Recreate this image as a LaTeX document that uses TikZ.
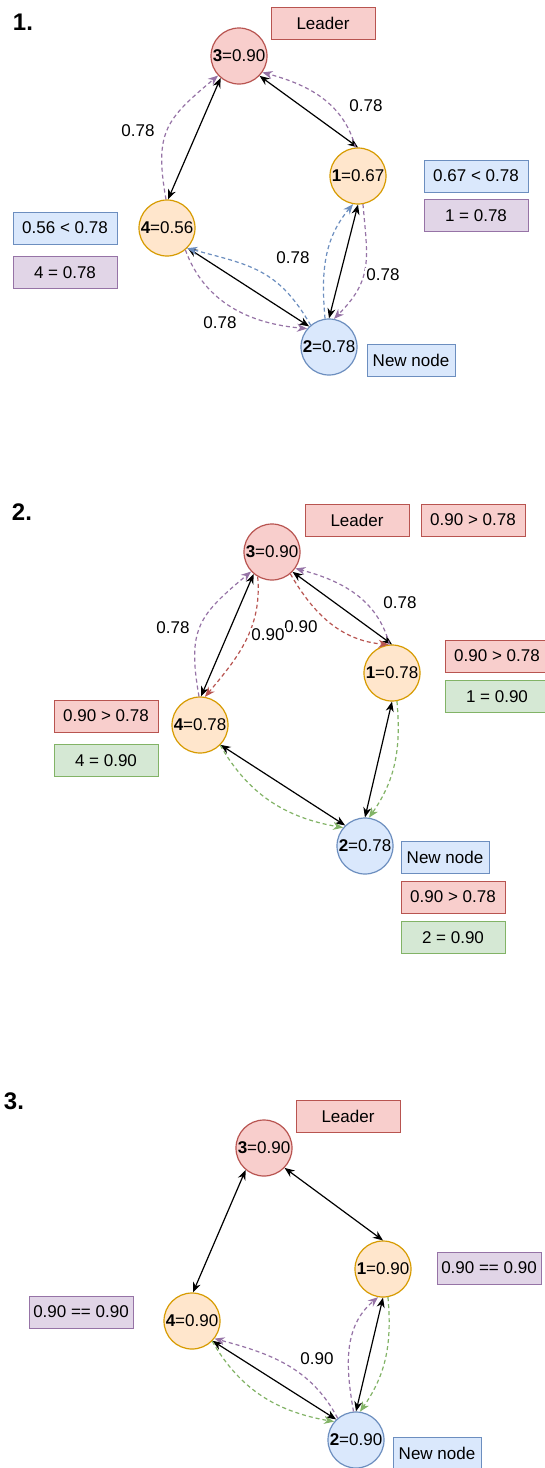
\documentclass[tikz,border=0pt]{standalone}
\usepackage{fontspec}
\setmainfont{Liberation Sans}
\usetikzlibrary{arrows.meta,positioning}
\definecolor{redfill}{HTML}{F8CECC}
\definecolor{redline}{HTML}{B85450}
\definecolor{orangefill}{HTML}{FFE6CC}
\definecolor{orangeline}{HTML}{D79B00}
\definecolor{bluefill}{HTML}{DAE8FC}
\definecolor{blueline}{HTML}{6C8EBF}
\definecolor{purplefill}{HTML}{E1D5E7}
\definecolor{purpleline}{HTML}{9673A6}
\definecolor{greenfill}{HTML}{D5E8D4}
\definecolor{greenline}{HTML}{82B366}
\begin{document}
\begin{tikzpicture}[x=1pt,y=1pt,>={Stealth[length=10pt,width=8pt]},
    every node/.style={font=\fontsize{17}{20}\selectfont},
    vertex/.style={circle,draw,line width=1.2pt,minimum size=56pt,inner sep=0pt},
    leadv/.style={vertex,fill=redfill,draw=redline},
    peerv/.style={vertex,fill=orangefill,draw=orangeline},
    newv/.style={vertex,fill=bluefill,draw=blueline},
    note/.style={draw,line width=0.9pt,minimum width=104pt,minimum height=32pt,inner sep=0pt},
    rednote/.style={note,fill=redfill,draw=redline},
    bluenote/.style={note,fill=bluefill,draw=blueline},
    purplenote/.style={note,fill=purplefill,draw=purpleline},
    greennote/.style={note,fill=greenfill,draw=greenline},
    link/.style={<->,line width=1.2pt},
    msg/.style={->,line width=1.2pt,dash pattern=on 4pt off 3pt},
    pmsg/.style={msg,purpleline},
    bmsg/.style={msg,blueline},
    rmsg/.style={msg,redline},
    gmsg/.style={msg,greenline},
    weight/.style={fill=white,inner sep=1pt},
    title/.style={font=\fontsize{24}{28}\selectfont\bfseries}]
  \useasboundingbox[fill=white] (0,0) rectangle (544,-1468);

  % step 1
  \begin{scope}[name prefix=s1-]
    \node[title] (head) at (23,-22) {1.};
    \node[rednote] (leader) at (323,-23) {Leader};
    \node[leadv] (3) at (239,-56) {\textbf{3}=0.90};
    \node[peerv] (1) at (358,-176) {\textbf{1}=0.67};
    \node[peerv] (4) at (167,-228) {\textbf{4}=0.56};
    \node[newv] (2) at (329,-347) {\textbf{2}=0.78};
    \node[bluenote] (cmp1) at (476,-176) {0.67 < 0.78};
    \node[purplenote,below=7pt of cmp1] (set1) {1 = 0.78};
    \node[bluenote] (cmp4) at (65,-228) {0.56 < 0.78};
    \node[purplenote,below=12pt of cmp4] (set4) {4 = 0.78};
    \node[bluenote,minimum width=88pt] (new) at (411,-360) {New node};

    \draw[link] (3.-44) -- (1.90);
    \draw[link] (3.230) -- (4.88);
    \draw[link] (4.-44) -- (2.134);
    \draw[link] (1.-90) -- (2.90);

    \draw[pmsg] (4.92) to[out=100,in=220,looseness=1.3] (3.223);
    \draw[pmsg] (1.95) to[out=105,in=-15] (3.-35);
    \draw[bmsg] (2.130) to[out=120,in=-15,looseness=1.15] (4.-45);
    \draw[pmsg] (4.-50) to[out=-70,in=175] (2.140);
    \draw[bmsg] (2.98) to[out=95,in=230] (1.-100);
    \draw[pmsg] (1.-80) to[out=-85,in=45,looseness=1.2] (2.80);

    \node[weight] (w43) at (138,-131) {0.78};
    \node[weight] (w13) at (366,-106) {0.78};
    \node[weight] (w24) at (293,-258) {0.78};
    \node[weight] (w12) at (383,-275) {0.78};
    \node[weight] (w42) at (220,-323) {0.78};
  \end{scope}

  % step 2
  \begin{scope}[name prefix=s2-]
    \node[title] (head) at (22,-512) {2.};
    \node[rednote] (leader) at (357,-520) {Leader};
    \node[rednote] (cmp3) at (473,-520) {0.90 > 0.78};
    \node[leadv] (3) at (272,-552) {\textbf{3}=0.90};
    \node[peerv] (1) at (392,-673) {\textbf{1}=0.78};
    \node[peerv] (4) at (200,-725) {\textbf{4}=0.78};
    \node[newv] (2) at (365,-846) {\textbf{2}=0.78};
    \node[rednote] (cmp1) at (497,-656) {0.90 > 0.78};
    \node[greennote,below=8pt of cmp1] (set1) {1 = 0.90};
    \node[rednote] (cmp4) at (106,-716) {0.90 > 0.78};
    \node[greennote,below=12pt of cmp4] (set4) {4 = 0.90};
    \node[bluenote,minimum width=88pt] (new) at (445,-857) {New node};
    \node[rednote] (cmp2) at (453,-897) {0.90 > 0.78};
    \node[greennote,below=8pt of cmp2] (set2) {2 = 0.90};

    \draw[link] (3.-44) -- (1.90);
    \draw[link] (3.230) -- (4.88);
    \draw[link] (4.-44) -- (2.134);
    \draw[link] (1.-90) -- (2.90);

    \draw[pmsg] (4.92) to[out=100,in=220,looseness=1.3] (3.223);
    \draw[pmsg] (1.95) to[out=105,in=-15] (3.-35);
    \draw[rmsg] (3.240) to[out=-85,in=50] (4.80);
    \draw[rmsg] (3.-50) to[out=-60,in=175] (1.97);
    \draw[gmsg] (4.-45) to[out=-60,in=170] (2.140);
    \draw[gmsg] (1.-80) to[out=-85,in=55] (2.82);

    \node[weight] (w43) at (173,-628) {0.78};
    \node[weight] (w13) at (400,-603) {0.78};
    \node[weight] (w31) at (301,-627) {0.90};
    \node[weight] (w34) at (268,-635) {0.90};
  \end{scope}

  % step 3
  \begin{scope}[name prefix=s3-]
    \node[title] (head) at (14,-1101) {3.};
    \node[rednote] (leader) at (348,-1116) {Leader};
    \node[leadv] (3) at (264,-1148) {\textbf{3}=0.90};
    \node[peerv] (1) at (383,-1269) {\textbf{1}=0.90};
    \node[peerv] (4) at (192,-1321) {\textbf{4}=0.90};
    \node[newv] (2) at (356,-1440) {\textbf{2}=0.90};
    \node[purplenote] (eq1) at (489,-1268) {0.90 == 0.90};
    \node[purplenote] (eq4) at (81,-1312) {0.90 == 0.90};
    \node[bluenote,minimum width=88pt] (new) at (437,-1453) {New node};

    \draw[link] (3.-44) -- (1.90);
    \draw[link] (3.230) -- (4.88);
    \draw[link] (4.-44) -- (2.134);
    \draw[link] (1.-90) -- (2.90);

    \draw[pmsg] (2.130) to[out=118,in=-15] (4.-38);
    \draw[gmsg] (4.-45) to[out=-60,in=170] (2.140);
    \draw[pmsg] (2.95) to[out=100,in=220] (1.-100);
    \draw[gmsg] (1.-80) to[out=-85,in=55] (2.82);

    \node[weight] (w24) at (317,-1359) {0.90};
  \end{scope}
\end{tikzpicture}
\end{document}
